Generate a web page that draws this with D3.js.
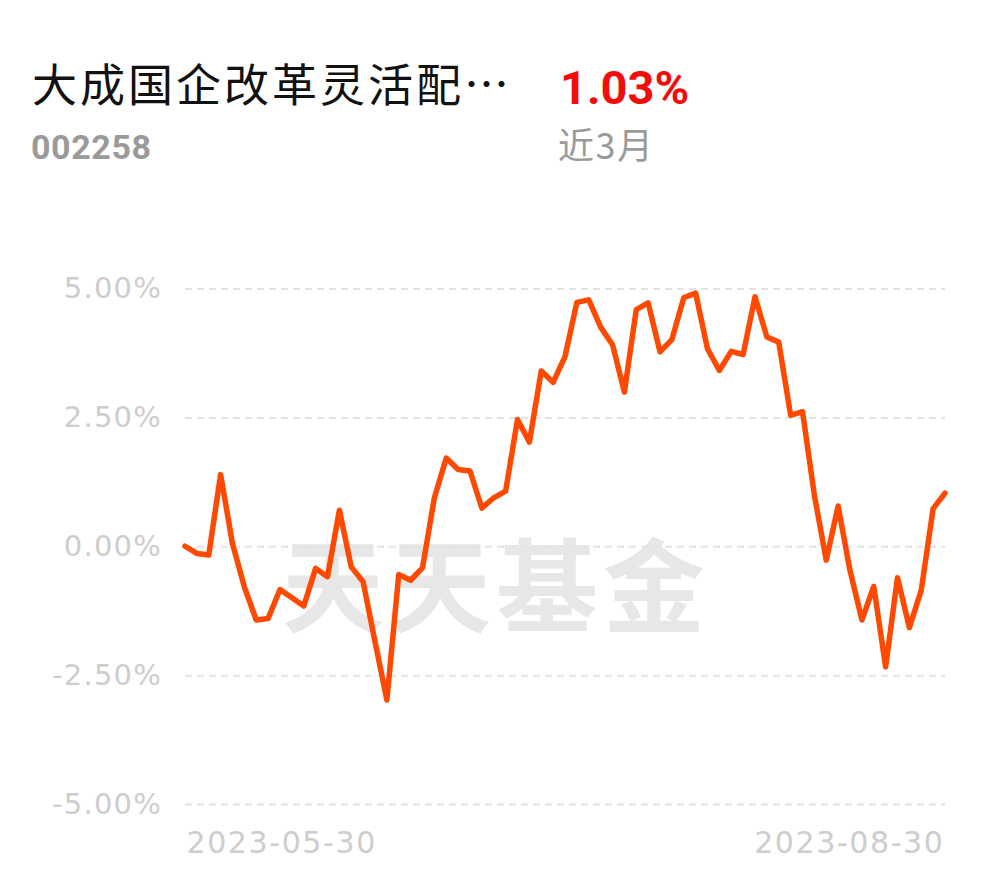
<!DOCTYPE html>
<html>
<head>
<meta charset="utf-8">
<script src="https://cdn.jsdelivr.net/npm/d3@7"></script>
<style>
  html, body { margin: 0; padding: 0; background: #fff; }
  svg { display: block; }
</style>
</head>
<body>
<div id="chart"></div>
<script>
const fundName = "大成国企改革灵活配…";
const fundCode = "002258";
const periodReturn = "1.03%";
const periodLabel = "近3月";
const watermark = "天天基金";

const yTicks = [5, 2.5, 0, -2.5, -5];
const xTickLabels = ["2023-05-30", "2023-08-30"];

const returns = [
  0.00, -0.14, -0.17, 1.39, 0.05, -0.79, -1.43, -1.40, -0.84, -1.00,
  -1.16, -0.43, -0.59, 0.70, -0.40, -0.69, -1.85, -2.98, -0.55, -0.66,
  -0.42, 0.94, 1.71, 1.49, 1.46, 0.74, 0.94, 1.07, 2.46, 2.02,
  3.40, 3.18, 3.68, 4.73, 4.78, 4.25, 3.91, 2.99, 4.59, 4.72,
  3.77, 4.01, 4.82, 4.91, 3.83, 3.41, 3.78, 3.72, 4.84, 4.06,
  3.96, 2.54, 2.61, 0.99, -0.27, 0.78, -0.47, -1.43, -0.78, -2.34,
  -0.61, -1.58, -0.85, 0.73, 1.03
];

const W = 990, H = 878;
const svg = d3.select("#chart").append("svg").attr("width", W).attr("height", H);

const x = d3.scaleLinear().domain([0, returns.length - 1]).range([185, 945]);
const y = d3.scaleLinear().domain([-5, 5]).range([804, 288.5]);

// Header
svg.append("text").attr("x", 32).attr("y", 102)
  .attr("font-family", "'Noto Sans CJK SC', sans-serif").attr("font-size", 45)
  .attr("letter-spacing", 3).attr("fill", "#111").text(fundName);
svg.append("text").attr("x", 31).attr("y", 159)
  .attr("font-family", "Roboto, sans-serif").attr("font-weight", "bold").attr("font-size", 34)
  .attr("letter-spacing", 0.6).attr("fill", "#9a9a9a").text(fundCode);
svg.append("text").attr("x", 560).attr("y", 104)
  .attr("font-family", "Roboto, sans-serif").attr("font-weight", "bold").attr("font-size", 47)
  .attr("fill", "#f20d0d").text(periodReturn);
svg.append("text").attr("x", 558).attr("y", 159)
  .attr("font-family", "'Noto Sans CJK SC', sans-serif").attr("font-size", 36)
  .attr("letter-spacing", 1.5).attr("fill", "#9a9a9a").text(periodLabel);

// Watermark
svg.append("text").attr("x", 496).attr("y", 625)
  .attr("text-anchor", "middle")
  .attr("font-family", "'Noto Sans CJK SC', sans-serif").attr("font-weight", "bold")
  .attr("font-size", 102).attr("letter-spacing", 5)
  .attr("fill", "#e7e7e7").text(watermark);

// Gridlines and y labels
const yAxis = d3.axisLeft(y).tickValues(yTicks).tickSize(-(945 - 185))
  .tickPadding(23).tickFormat(d => d.toFixed(2) + "%");
const gy = svg.append("g").attr("transform", "translate(185,0)").call(yAxis);
gy.select(".domain").remove();
gy.selectAll(".tick line").attr("stroke", "#e3e3e3").attr("stroke-width", 2)
  .attr("stroke-dasharray", "7,5");
gy.selectAll(".tick text").attr("fill", "#cdcdcd")
  .attr("font-family", "'DejaVu Sans', sans-serif").attr("font-size", 29)
  .attr("letter-spacing", 1.2);

// X labels
const xAxis = d3.axisBottom(x).tickValues([0, returns.length - 1])
  .tickSize(0).tickPadding(0).tickFormat((d, i) => xTickLabels[i]);
const gx = svg.append("g").attr("transform", "translate(0,823)").call(xAxis);
gx.select(".domain").remove();
gx.selectAll(".tick text")
  .attr("fill", "#cdcdcd").attr("font-family", "'DejaVu Sans', sans-serif")
  .attr("font-size", 30).attr("letter-spacing", 1.6)
  .attr("dy", "1em")
  .attr("text-anchor", (d, i) => i === 0 ? "start" : "end")
  .attr("dx", (d, i) => i === 0 ? 1 : -1);

// Line
const line = d3.line().x((d, i) => x(i)).y(d => y(d));
svg.append("path").datum(returns)
  .attr("fill", "none").attr("stroke", "#ff4800").attr("stroke-width", 5.5)
  .attr("stroke-linejoin", "round").attr("stroke-linecap", "round")
  .attr("d", line);
</script>
</body>
</html>
